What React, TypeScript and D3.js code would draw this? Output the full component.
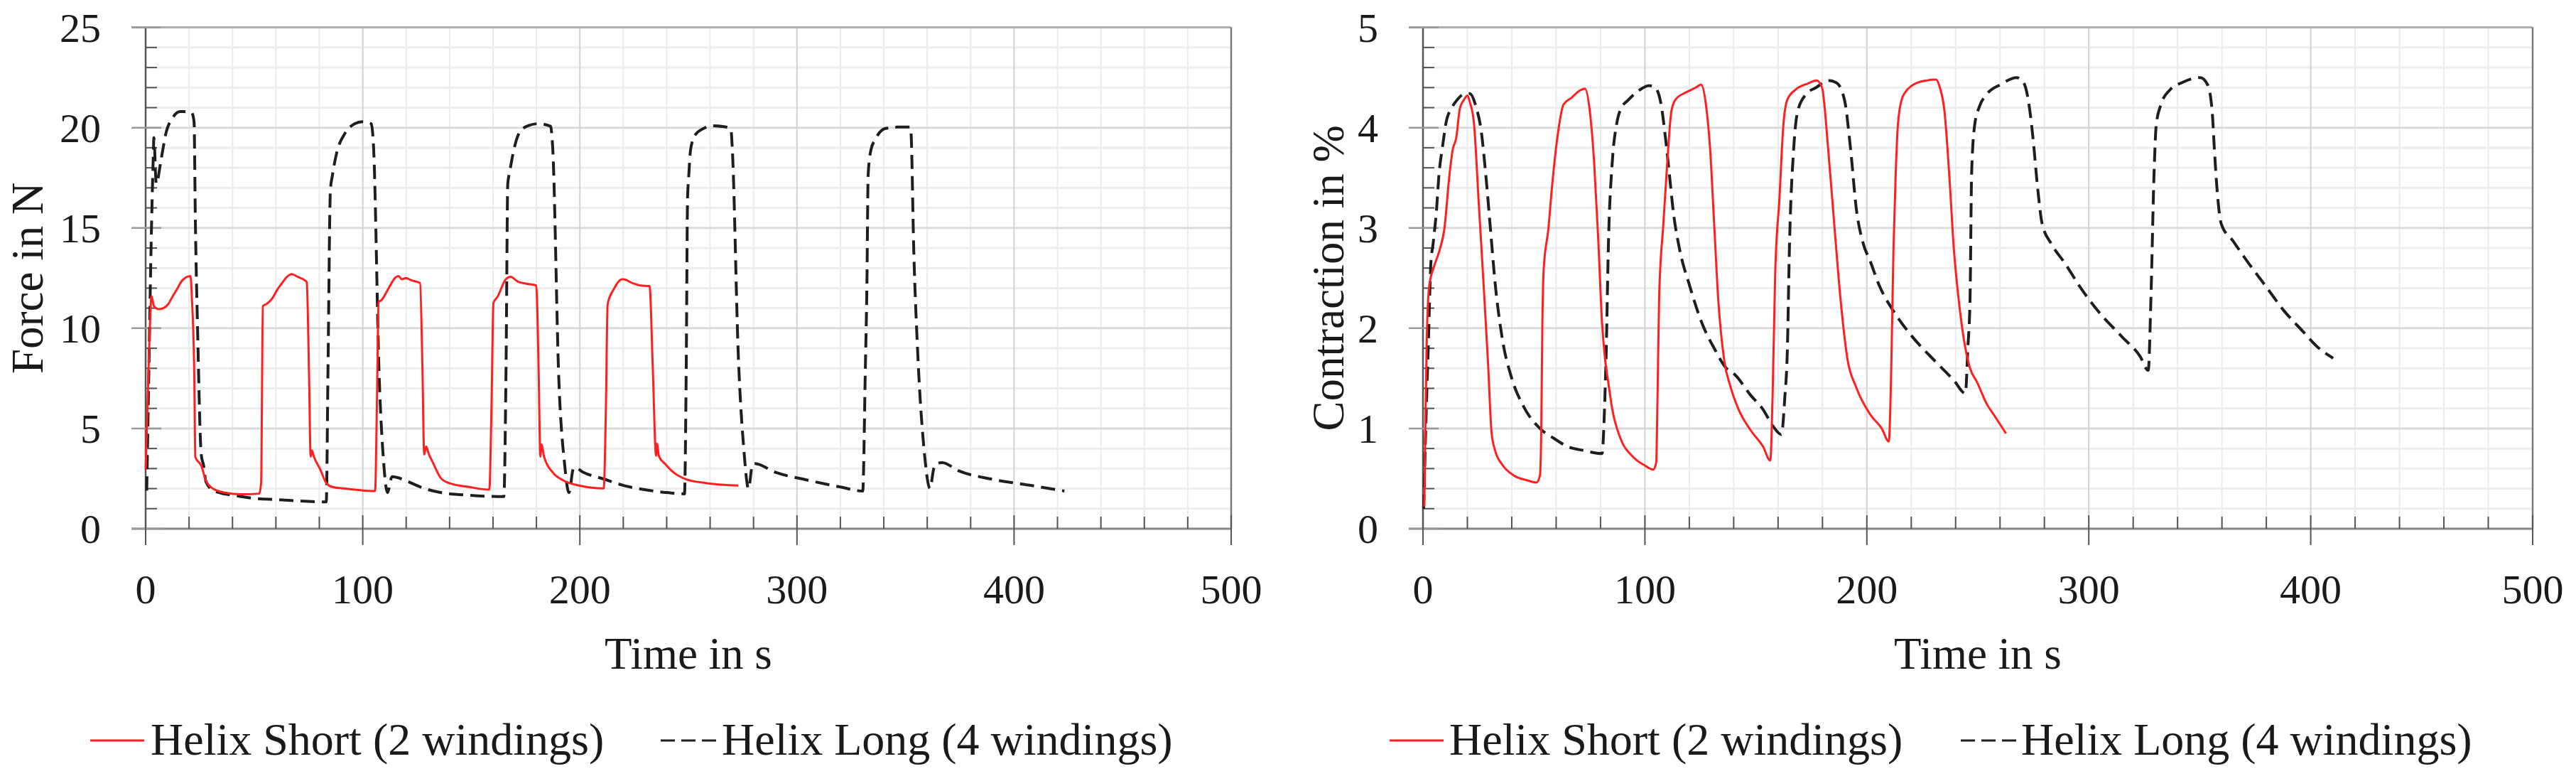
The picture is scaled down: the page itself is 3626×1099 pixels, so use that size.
import React from 'react';
import * as d3 from 'd3';

// ---------- data ----------
const timeTicks = [0, 100, 200, 300, 400, 500];
const forceTicks = [0, 5, 10, 15, 20, 25];
const contractionTicks = [0, 1, 2, 3, 4, 5];
const seriesNames = ['Helix Short (2 windings)', 'Helix Long (4 windings)'];
const axisTitles = { time: 'Time in s', force: 'Force in N', contraction: 'Contraction in %' };

// [time s, force N]
const forceShort: [number, number][] = [
  [0, 2.94], [1.6, 8.9], [2.7, 11.6], [3.8, 11.1], [6, 10.95], [8.2, 11.0], [10.4, 11.2], [12.5, 11.6], [14.2, 11.9],
  [17, 12.4], [20.7, 12.6], [21.3, 11.5], [22.4, 7.7], [22.9, 3.56], [25.6, 3.15], [27.8, 2.4], [31, 2.0], [36.5, 1.8],
  [44.1, 1.72], [52.3, 1.75], [53.2, 2.3], [54, 11.1], [55.6, 11.2], [58.4, 11.5], [60.5, 11.9], [62.5, 12.2], [65, 12.55],
  [67.2, 12.7], [70.1, 12.56], [73.4, 12.38], [74.2, 12.3], [75.3, 7.5], [76.0, 3.6], [76.6, 3.9], [77.5, 3.6], [80.4, 2.96],
  [83.2, 2.28], [86, 2.08], [92.6, 1.99], [105.7, 1.88], [106.5, 6], [107.3, 11.3], [108.6, 11.4], [112.3, 12.07],
  [114.8, 12.5], [116.5, 12.6], [118, 12.44], [119.8, 12.5], [122.6, 12.38], [126.4, 12.25], [127.5, 8], [128.3, 3.7],
  [129.2, 4.1], [130.5, 3.7], [132, 3.37], [135.8, 2.55], [139.6, 2.28], [149, 2.08], [158.3, 1.95], [159.3, 6],
  [160.2, 11.26], [162.1, 11.57], [165.9, 12.44], [168.1, 12.56], [171.5, 12.32], [177.1, 12.19], [179.9, 12.13],
  [181, 8], [181.8, 3.6], [182.4, 4.2], [183.5, 3.6], [187.4, 2.82], [192.2, 2.42], [199.7, 2.15], [211, 2.01], [212, 6],
  [212.8, 11.2], [215.6, 11.94], [219.4, 12.44], [220.1, 12.44], [224.2, 12.25], [227.9, 12.13], [232.1, 12.1],
  [233.6, 8], [235.1, 3.64], [235.5, 4.24], [236.5, 3.6], [239.2, 3.24], [243, 2.82], [248.6, 2.48], [258, 2.28], [273, 2.15],
];

const forceLong: [number, number][] = [
  [0.5, 1.9], [1.5, 8], [2.5, 14], [3.5, 18.5], [3.8, 19.5], [4.9, 17.2], [7.1, 18.4], [9.3, 19.7], [12.5, 20.5],
  [15.8, 20.8], [17.9, 20.8], [21.2, 20.75], [22.3, 20.3], [22.9, 15.4], [24, 9.6], [25.6, 3.7], [26.7, 3.15], [27.8, 2.34],
  [31, 1.92], [34.3, 1.79], [40.9, 1.66], [49.6, 1.52], [60.5, 1.45], [68.2, 1.4], [83.2, 1.34], [84, 8], [85.1, 16.9],
  [86, 17.6], [87.9, 18.7], [91.7, 19.7], [96.4, 20.2], [100.1, 20.3], [103.9, 20.2], [105, 19], [107.6, 7.5], [109.5, 3.5],
  [111.4, 1.8], [113.5, 2.6], [116, 2.55], [120.8, 2.35], [128.3, 2.01], [135.8, 1.81], [149, 1.67], [165, 1.6], [166, 8],
  [166.8, 17.2], [167.7, 17.8], [169.6, 18.9], [172.4, 19.8], [176.2, 20.1], [180.9, 20.2], [186.5, 20.07], [187.5, 19],
  [190.3, 7.5], [193, 3.2], [195, 1.8], [197, 3.0], [197.8, 3.05], [201.5, 2.82], [211, 2.48], [220.4, 2.15], [229.8, 1.95],
  [239.2, 1.81], [248.2, 1.74], [249, 8], [249.6, 16.4], [250.2, 17.66], [251, 18.9], [253.2, 19.65], [257, 19.96],
  [260.8, 20.1], [267.4, 20.03], [269.6, 19.9], [270.2, 19], [273, 8.6], [275.5, 4], [277.7, 2.0], [279.5, 3.2],
  [280.5, 3.25], [289.9, 2.82], [305, 2.42], [320, 2.08], [330.3, 1.88], [331.5, 8], [332.2, 12], [332.8, 17.66],
  [334.1, 18.9], [336, 19.4], [340.7, 19.96], [346.3, 20.03], [352, 20.03], [352.5, 19.8], [353.8, 13.9], [355.7, 8.6],
  [358.5, 4], [361.3, 2.01], [363, 3.0], [364.1, 3.23], [366.9, 3.3], [374.4, 2.89], [389.4, 2.48], [408.2, 2.15], [423.2, 1.88],
];

// [time s, contraction %]
const contractionShort: [number, number][] = [
  [0.6, 0.22], [1.2, 1.2], [1.7, 1.88], [2.8, 2.42], [4.9, 2.61], [7.5, 2.78], [9.7, 3.0], [11.8, 3.5], [13.4, 3.78],
  [15, 3.9], [16.6, 4.19], [18.5, 4.28], [20, 4.32], [21.2, 4.25], [23, 4.04], [25.1, 3.26], [27.2, 2.48], [29.3, 1.66],
  [30.9, 0.96], [32.5, 0.78], [35.7, 0.64], [41, 0.53], [47.4, 0.48], [51.1, 0.46], [52.7, 0.53], [53.3, 0.99], [53.8, 2.05],
  [54.4, 2.59], [56.5, 2.99], [58.1, 3.4], [60.6, 3.91], [63.3, 4.23], [67, 4.3], [70.6, 4.37], [73, 4.39], [75.2, 4.16],
  [77.1, 3.66], [78.9, 2.92], [80.7, 2.05], [82, 1.7], [83.5, 1.46], [85.3, 1.19], [89, 0.9], [94.5, 0.72], [100, 0.63],
  [103.7, 0.59], [105.1, 0.66], [105.6, 1.2], [106.4, 2.3], [108.3, 3.04], [110.1, 3.66], [111.9, 4.16], [113.8, 4.28],
  [118.3, 4.35], [122.9, 4.4], [125.3, 4.43], [127.5, 4.23], [129.4, 3.78], [131.2, 3.04], [133, 2.3], [135.8, 1.67],
  [138.5, 1.42], [142.2, 1.19], [147.7, 0.98], [153.2, 0.82], [156.5, 0.68], [157.5, 1.3], [158.7, 2.54], [160.6, 3.29],
  [162.4, 4.03], [164.2, 4.28], [167.9, 4.38], [173.4, 4.44], [177.4, 4.47], [179.8, 4.4], [182.6, 3.78], [185.3, 3.04],
  [188.1, 2.3], [191.2, 1.7], [195.2, 1.41], [201.5, 1.14], [206.7, 1.0], [209.9, 0.87], [211, 1.6], [212, 2.79], [213, 3.54],
  [214, 4.03], [215.7, 4.28], [217.2, 4.35], [220.3, 4.42], [226.6, 4.47], [231.2, 4.48], [232.9, 4.4], [235, 4.16],
  [237.1, 3.54], [239.2, 2.79], [241.3, 2.3], [244, 1.85], [246.5, 1.6], [249.7, 1.46], [253.9, 1.25], [258, 1.11], [262.7, 0.95],
];

const contractionLong: [number, number][] = [
  [0.3, 0.2], [1.5, 1.2], [2.5, 1.9], [3.5, 2.63], [4.6, 2.85], [6.1, 3.18], [7.2, 3.53], [8.8, 3.81], [10.4, 4.05],
  [13, 4.2], [15.5, 4.28], [18, 4.33], [21.1, 4.34], [24, 4.2], [26.1, 3.99], [28.3, 3.53], [30.4, 2.99], [32.5, 2.45],
  [35.7, 1.9], [40, 1.5], [45.3, 1.22], [52.7, 1.0], [59.1, 0.9], [65.1, 0.82], [72.5, 0.78], [80.7, 0.75], [81.8, 1.2],
  [82.6, 1.8], [83.5, 2.79], [85.3, 3.66], [87.2, 4.03], [89, 4.18], [92.7, 4.28], [97.2, 4.37], [101.8, 4.42], [104.6, 4.4],
  [107.3, 4.23], [109.2, 3.91], [111, 3.54], [112.8, 3.16], [115.6, 2.79], [120.2, 2.42], [125.7, 2.05], [131.2, 1.8],
  [136.7, 1.6], [140.4, 1.54], [147.7, 1.33], [153.2, 1.19], [157.8, 1.02], [161.5, 0.94], [163, 1.3], [164.2, 1.8],
  [165.1, 2.79], [167, 3.78], [168.8, 4.16], [172.5, 4.33], [177.1, 4.4], [182.6, 4.47], [186.2, 4.45], [189.9, 4.28],
  [192.7, 3.78], [195.2, 3.2], [198.3, 2.85], [201.5, 2.67], [205.7, 2.42], [212, 2.17], [220.3, 1.92], [230.8, 1.67],
  [239.2, 1.48], [244.4, 1.35], [245.5, 1.8], [246.5, 2.3], [247.2, 3.54], [248.6, 4.03], [250.7, 4.21], [253.9, 4.33],
  [260.2, 4.43], [267.5, 4.5], [270.6, 4.45], [272.7, 4.28], [274.8, 3.91], [276.9, 3.41], [279, 3.04], [283.2, 2.84],
  [289.5, 2.64], [295.8, 2.42], [304.2, 2.17], [314.7, 1.92], [323.1, 1.72], [326.8, 1.58], [328, 2.3], [329.4, 3.54],
  [330.4, 4.03], [332.5, 4.23], [336.7, 4.38], [342, 4.45], [350.3, 4.5], [353.5, 4.43], [355.6, 4.16], [356.6, 3.78],
  [357.7, 3.41], [359.7, 3.04], [365, 2.87], [371.3, 2.67], [379.7, 2.42], [388.1, 2.17], [396.4, 1.97], [402.7, 1.82],
  [410.1, 1.7],
];

// ---------- layout ----------
const W = 3626;
const H = 1099;
const FONT = "'Liberation Serif', 'Times New Roman', serif";
const TEXT = '#1a1a1a';
const RED = '#ff1f1f';
const DARK = '#1e1e1e';

type PanelProps = {
  x0: number;
  x1: number;
  yTicks: number[];
  yMinorStep: number;
  yTitle: string;
  yTitleX: number;
  short: [number, number][];
  long: [number, number][];
  legend: { redX: number; redText: number; dashX: number; dashText: number };
};

const Y_TOP = 38.6;
const Y_BOT = 744;

function Panel(p: PanelProps) {
  const x = d3.scaleLinear().domain([timeTicks[0], timeTicks[timeTicks.length - 1]]).range([p.x0, p.x1]);
  const yMax = p.yTicks[p.yTicks.length - 1];
  const y = d3.scaleLinear().domain([0, yMax]).range([Y_BOT, Y_TOP]);
  const xMinor = d3.range(0, 500.001, 20).filter((v) => v % 100 !== 0);
  const yMinor = d3
    .range(0, yMax + 1e-6, p.yMinorStep)
    .filter((v) => p.yTicks.every((t) => Math.abs(t - v) > 1e-6));
  const line = d3
    .line<[number, number]>()
    .x((d) => x(d[0]))
    .y((d) => y(d[1]))
    .curve(d3.curveMonotoneX);
  const cx = (p.x0 + p.x1) / 2;
  const cy = (Y_TOP + Y_BOT) / 2;
  const legendY = 1042;
  return (
    <g>
      {/* grid */}
      {yMinor.map((v) => (
        <line key={'hm' + v} x1={p.x0} x2={p.x1} y1={y(v)} y2={y(v)} stroke="#ededed" strokeWidth={3} />
      ))}
      {xMinor.map((v) => (
        <line key={'vm' + v} x1={x(v)} x2={x(v)} y1={Y_TOP} y2={Y_BOT} stroke="#ebebeb" strokeWidth={2} />
      ))}
      {p.yTicks.map((v) => (
        <line key={'hM' + v} x1={p.x0} x2={p.x1} y1={y(v)} y2={y(v)} stroke="#dadada" strokeWidth={3} />
      ))}
      {timeTicks.map((v) => (
        <line key={'vM' + v} x1={x(v)} x2={x(v)} y1={Y_TOP} y2={Y_BOT} stroke="#d2d2d2" strokeWidth={2} />
      ))}
      {/* frame */}
      <line x1={p.x0 - 20} x2={p.x1} y1={Y_TOP} y2={Y_TOP} stroke="#b0b0b0" strokeWidth={3} />
      <line x1={p.x1} x2={p.x1} y1={Y_TOP} y2={Y_BOT} stroke="#7a7a7a" strokeWidth={2.5} />
      <line x1={p.x0 - 20} x2={p.x1} y1={Y_BOT} y2={Y_BOT} stroke="#8a8a8a" strokeWidth={3} />
      <line x1={p.x0} x2={p.x0} y1={Y_TOP} y2={Y_BOT} stroke="#555" strokeWidth={2.5} />
      {/* y ticks */}
      {yMinor.map((v) => (
        <line key={'ytm' + v} x1={p.x0} x2={p.x0 + 16} y1={y(v)} y2={y(v)} stroke="#555" strokeWidth={2} />
      ))}
      {p.yTicks.map((v) => (
        <line key={'ytM' + v} x1={p.x0 - 20} x2={p.x0 + 22} y1={y(v)} y2={y(v)} stroke="#999" strokeWidth={2.5} />
      ))}
      {/* x ticks */}
      {xMinor.map((v) => (
        <line key={'xtm' + v} x1={x(v)} x2={x(v)} y1={Y_BOT - 17} y2={Y_BOT} stroke="#555" strokeWidth={2} />
      ))}
      {timeTicks.map((v) => (
        <line key={'xtM' + v} x1={x(v)} x2={x(v)} y1={Y_BOT - 19} y2={Y_BOT + 23} stroke="#555" strokeWidth={2} />
      ))}
      {/* series */}
      <path d={line(p.long) || ''} fill="none" stroke={DARK} strokeWidth={4} strokeDasharray="20 10" />
      <path d={line(p.short) || ''} fill="none" stroke={RED} strokeWidth={3} />
      {/* tick labels */}
      {p.yTicks.map((v) => (
        <text key={'yl' + v} x={p.x0 - 63} y={y(v) + 20} textAnchor="end" fontSize={58} fontFamily={FONT} fill={TEXT}>
          {v}
        </text>
      ))}
      {timeTicks.map((v) => (
        <text key={'xl' + v} x={x(v)} y={849} textAnchor="middle" fontSize={58} fontFamily={FONT} fill={TEXT}>
          {v}
        </text>
      ))}
      {/* titles */}
      <text x={cx} y={941} textAnchor="middle" fontSize={63} fontFamily={FONT} fill={TEXT}>
        {axisTitles.time}
      </text>
      <text
        transform={`translate(${p.yTitleX},${cy}) rotate(-90)`}
        textAnchor="middle"
        fontSize={63}
        fontFamily={FONT}
        fill={TEXT}
      >
        {p.yTitle}
      </text>
      {/* legend */}
      <line x1={p.legend.redX} x2={p.legend.redX + 76} y1={legendY} y2={legendY} stroke={RED} strokeWidth={3} />
      <text x={p.legend.redText} y={1062} fontSize={64} fontFamily={FONT} fill={TEXT}>
        {seriesNames[0]}
      </text>
      <line
        x1={p.legend.dashX}
        x2={p.legend.dashX + 78}
        y1={legendY}
        y2={legendY}
        stroke={DARK}
        strokeWidth={3}
        strokeDasharray="20 9"
      />
      <text x={p.legend.dashText} y={1062} fontSize={64} fontFamily={FONT} fill={TEXT}>
        {seriesNames[1]}
      </text>
    </g>
  );
}

export default function App() {
  return (
    <svg
      width={W}
      height={H}
      viewBox={`0 0 ${W} ${H}`}
      style={{ position: 'absolute', left: 0, top: 0, display: 'block', background: '#fff' }}
    >
      <rect x={0} y={0} width={W} height={H} fill="#fff" />
      <Panel
        x0={205}
        x1={1733}
        yTicks={forceTicks}
        yMinorStep={1}
        yTitle={axisTitles.force}
        yTitleX={60}
        short={forceShort}
        long={forceLong}
        legend={{ redX: 127, redText: 212, dashX: 930, dashText: 1016 }}
      />
      <Panel
        x0={2003}
        x1={3565}
        yTicks={contractionTicks}
        yMinorStep={0.2}
        yTitle={axisTitles.contraction}
        yTitleX={1891}
        short={contractionShort}
        long={contractionLong}
        legend={{ redX: 1956, redText: 2040, dashX: 2760, dashText: 2845 }}
      />
    </svg>
  );
}
